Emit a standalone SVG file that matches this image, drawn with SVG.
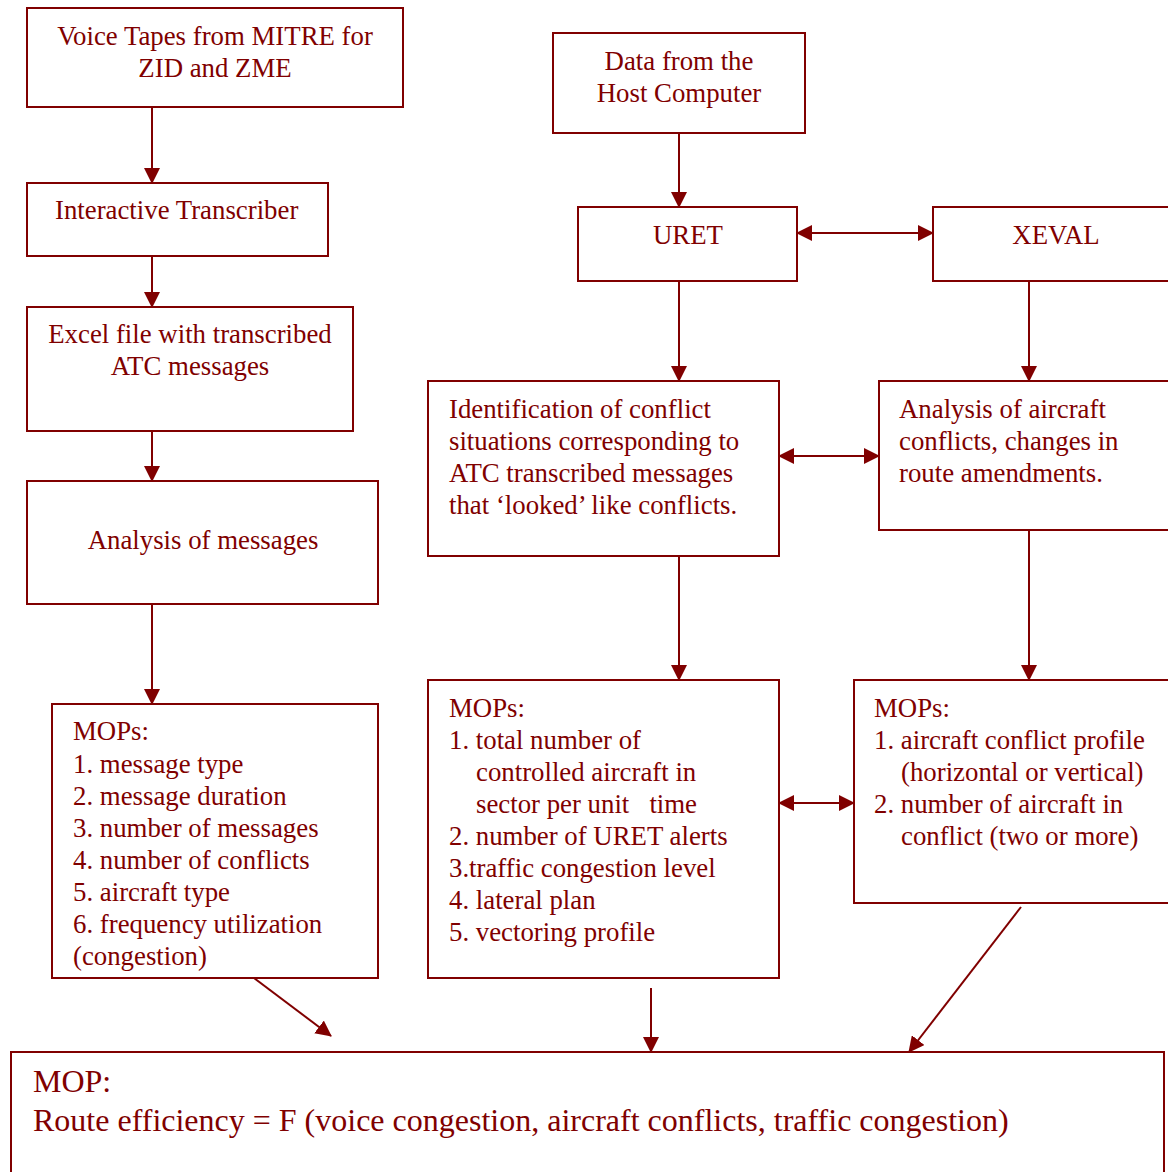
<svg xmlns="http://www.w3.org/2000/svg" width="1168" height="1172" viewBox="0 0 1168 1172">
<defs>
<marker id="ah" markerUnits="userSpaceOnUse" markerWidth="16" markerHeight="16" refX="15" refY="8" orient="auto-start-reverse" viewBox="0 0 16 16">
<path d="M0,0 L16,8 L0,16 Z" fill="#800000"/>
</marker>
</defs>
<style>
.box{fill:#fff;stroke:#800000;stroke-width:2}
.t{font-family:"Liberation Serif","Times New Roman",serif;font-size:26.8px;fill:#800000}
.c{text-anchor:middle}
.big{font-size:32px}
.ln{stroke:#800000;stroke-width:2;fill:none}
.a{marker-end:url(#ah)}
.b{marker-start:url(#ah);marker-end:url(#ah)}
</style>
<rect width="1168" height="1172" fill="#fff"/>
<g id="connectors">
<line class="ln a" x1="152" y1="107" x2="152" y2="183"/>
<line class="ln a" x1="152" y1="256" x2="152" y2="307"/>
<line class="ln a" x1="152" y1="431" x2="152" y2="481"/>
<line class="ln a" x1="152" y1="604" x2="152" y2="704"/>
<line class="ln a" x1="679" y1="133" x2="679" y2="207"/>
<line class="ln b" x1="797" y1="233" x2="933" y2="233"/>
<line class="ln a" x1="679" y1="281" x2="679" y2="381"/>
<line class="ln a" x1="1029" y1="281" x2="1029" y2="381"/>
<line class="ln b" x1="779" y1="456" x2="879" y2="456"/>
<line class="ln a" x1="679" y1="556" x2="679" y2="680"/>
<line class="ln a" x1="1029" y1="530" x2="1029" y2="680"/>
<line class="ln b" x1="779" y1="803" x2="854" y2="803"/>
<line class="ln a" x1="254" y1="978" x2="331" y2="1036"/>
<line class="ln a" x1="651" y1="988" x2="651" y2="1052"/>
<line class="ln a" x1="1021" y1="907" x2="909" y2="1052"/>
</g>
<g id="voice-tapes">
<rect class="box" x="27" y="8" width="376" height="99"/>
<text class="t c" x="215" y="45">Voice Tapes from MITRE for</text>
<text class="t c" x="215" y="77">ZID and ZME</text>
</g>
<g id="transcriber">
<rect class="box" x="27" y="183" width="301" height="73"/>
<text class="t" x="55" y="219">Interactive Transcriber</text>
</g>
<g id="excel">
<rect class="box" x="27" y="307" width="326" height="124"/>
<text class="t c" x="190" y="343">Excel file with transcribed</text>
<text class="t c" x="190" y="375">ATC messages</text>
</g>
<g id="analysis-messages">
<rect class="box" x="27" y="481" width="351" height="123"/>
<text class="t c" x="203" y="549">Analysis of messages</text>
</g>
<g id="mops-voice">
<rect class="box" x="52" y="704" width="326" height="274"/>
<text class="t" x="73" y="740">MOPs:</text>
<text class="t" x="73" y="773">1. message type</text>
<text class="t" x="73" y="805">2. message duration</text>
<text class="t" x="73" y="837">3. number of messages</text>
<text class="t" x="73" y="869">4. number of conflicts</text>
<text class="t" x="73" y="901">5. aircraft type</text>
<text class="t" x="73" y="933">6. frequency utilization</text>
<text class="t" x="73" y="965">(congestion)</text>
</g>
<g id="host-data">
<rect class="box" x="553" y="33" width="252" height="100"/>
<text class="t c" x="679" y="70">Data from the</text>
<text class="t c" x="679" y="102">Host Computer</text>
</g>
<g id="uret">
<rect class="box" x="578" y="207" width="219" height="74"/>
<text class="t c" x="688" y="244">URET</text>
</g>
<g id="xeval">
<rect class="box" x="933" y="207" width="250" height="74"/>
<text class="t c" x="1056" y="244">XEVAL</text>
</g>
<g id="identification">
<rect class="box" x="428" y="381" width="351" height="175"/>
<text class="t" x="449" y="418">Identification of conflict</text>
<text class="t" x="449" y="450">situations corresponding to</text>
<text class="t" x="449" y="482">ATC transcribed messages</text>
<text class="t" x="449" y="514">that ‘looked’ like conflicts.</text>
</g>
<g id="analysis-aircraft">
<rect class="box" x="879" y="381" width="300" height="149"/>
<text class="t" x="899" y="418">Analysis of aircraft</text>
<text class="t" x="899" y="450">conflicts, changes in</text>
<text class="t" x="899" y="482">route amendments.</text>
</g>
<g id="mops-traffic">
<rect class="box" x="428" y="680" width="351" height="298"/>
<text class="t" x="449" y="717">MOPs:</text>
<text class="t" x="449" y="749">1. total number of</text>
<text class="t" x="476" y="781">controlled aircraft in</text>
<text class="t" x="476" y="813" xml:space="preserve">sector per unit   time</text>
<text class="t" x="449" y="845">2. number of URET alerts</text>
<text class="t" x="449" y="877">3.traffic congestion level</text>
<text class="t" x="449" y="909">4. lateral plan</text>
<text class="t" x="449" y="941">5. vectoring profile</text>
</g>
<g id="mops-conflicts">
<rect class="box" x="854" y="680" width="325" height="223"/>
<text class="t" x="874" y="717">MOPs:</text>
<text class="t" x="874" y="749">1. aircraft conflict profile</text>
<text class="t" x="901" y="781">(horizontal or vertical)</text>
<text class="t" x="874" y="813">2. number of aircraft in</text>
<text class="t" x="901" y="845">conflict (two or more)</text>
</g>
<g id="route-efficiency">
<rect class="box" x="11" y="1052" width="1153" height="140"/>
<text class="t big" x="33" y="1092">MOP:</text>
<text class="t big" x="33" y="1131">Route efficiency = F (voice congestion, aircraft conflicts, traffic congestion)</text>
</g>
</svg>
